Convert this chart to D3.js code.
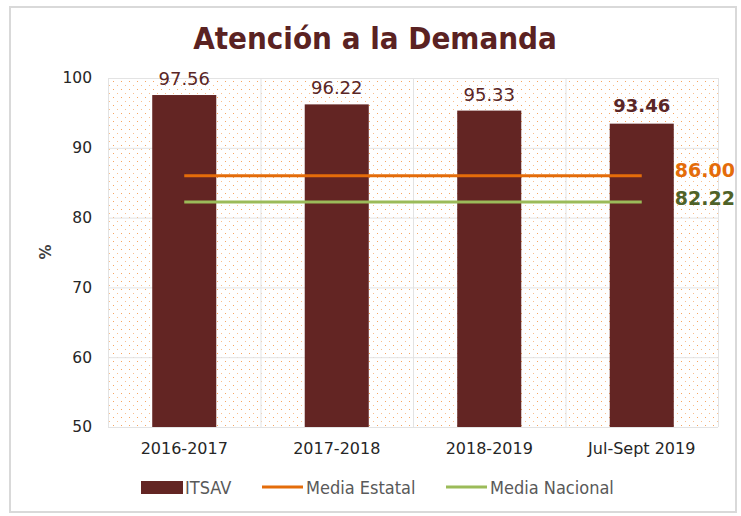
<!DOCTYPE html>
<html><head><meta charset="utf-8">
<script src="https://cdn.jsdelivr.net/npm/d3@7"></script>
<style>
body{margin:0;background:#fff;}
svg{display:block;}
</style></head>
<body>
<script>
const categories = ["2016-2017","2017-2018","2018-2019","Jul-Sept 2019"];
const itsav = [97.56, 96.22, 95.33, 93.46];
const mediaEstatal = [86.00, 86.00, 86.00, 86.00];
const mediaNacional = [82.22, 82.22, 82.22, 82.22];
const yTicks = [50, 60, 70, 80, 90, 100];
const legendLabels = ["ITSAV", "Media Estatal", "Media Nacional"];

const W = 741, H = 516;
const margin = {left:108, right:23, top:78, bottom:89};
const svg = d3.select("body").append("svg").attr("width", W).attr("height", H);

const maroon = "#632523", orange = "#E46C0A", green = "#9BBB59";

// outer border
svg.append("rect").attr("x",10).attr("y",7).attr("width",726).attr("height",505)
  .attr("fill","#fff").attr("stroke","#d9d9d9").attr("stroke-width",2);

// pattern
const defs = svg.append("defs");
const pat = defs.append("pattern").attr("id","dots").attr("patternUnits","userSpaceOnUse")
  .attr("width",8).attr("height",8);
pat.append("rect").attr("width",8).attr("height",8).attr("fill","#fff");
pat.append("rect").attr("x",1).attr("y",1).attr("width",1).attr("height",1).attr("fill","#f7a662");
pat.append("rect").attr("x",5).attr("y",5).attr("width",1).attr("height",1).attr("fill","#f9bf8f");

const x = d3.scaleBand().domain(categories).range([margin.left, W - margin.right]).paddingInner(0).paddingOuter(0);
const y = d3.scaleLinear().domain([50,100]).range([H - margin.bottom, margin.top]);

// plot background
svg.append("rect").attr("x", x.range()[0]).attr("y", y(100))
  .attr("width", x.range()[1]-x.range()[0]).attr("height", y(50)-y(100))
  .attr("fill","url(#dots)");

// gridlines
svg.append("g").selectAll("line").data(yTicks).join("line")
  .attr("x1", x.range()[0]).attr("x2", x.range()[1])
  .attr("y1", d=>y(d)+0.5).attr("y2", d=>y(d)+0.5)
  .attr("stroke","#e3e3e3").attr("stroke-width",1);
const bounds = categories.map(c=>x(c)).concat([x.range()[1]]);
svg.append("g").selectAll("line").data(bounds).join("line")
  .attr("x1", d=>d+0.5).attr("x2", d=>d+0.5)
  .attr("y1", y(100)).attr("y2", y(50))
  .attr("stroke","#e3e3e3").attr("stroke-width",1);

// bars
const bw = x.bandwidth()*0.42;
svg.append("g").selectAll("rect").data(itsav).join("rect")
  .attr("x",(d,i)=>x(categories[i]) + x.bandwidth()/2 - bw/2)
  .attr("y", d=>y(d)).attr("width", bw).attr("height", d=>y(50)-y(d))
  .attr("fill", maroon);

// bar labels
svg.append("g").selectAll("text").data(itsav).join("text")
  .attr("x",(d,i)=>x(categories[i]) + x.bandwidth()/2)
  .attr("y", (d,i)=>y(d)-(i===3?12:10))
  .attr("text-anchor","middle")
  .attr("font-family","DejaVu Sans, Verdana, sans-serif")
  .attr("font-size",18)
  .attr("font-weight",(d,i)=>i===3?"bold":"normal")
  .attr("fill","#5a2626")
  .text(d=>d.toFixed(2));

// lines
const line = d3.line().x((d,i)=>x(categories[i]) + x.bandwidth()/2).y(d=>y(d));
svg.append("path").datum(mediaEstatal).attr("d",line).attr("fill","none").attr("stroke",orange).attr("stroke-width",3);
svg.append("path").datum(mediaNacional).attr("d",line).attr("fill","none").attr("stroke",green).attr("stroke-width",3);

// line end labels
const lastX = x(categories[3]) + x.bandwidth()/2;
svg.append("text").attr("x", lastX+33).attr("y", y(mediaEstatal[3])+1)
  .attr("font-family","DejaVu Sans, Verdana, sans-serif").attr("font-size",19).attr("font-weight","bold")
  .attr("fill",orange).text(mediaEstatal[3].toFixed(2));
svg.append("text").attr("x", lastX+33).attr("y", y(mediaNacional[3])+3)
  .attr("font-family","DejaVu Sans, Verdana, sans-serif").attr("font-size",19).attr("font-weight","bold")
  .attr("fill","#4F6228").text(mediaNacional[3].toFixed(2));

// y axis
const yAxis = svg.append("g").attr("transform",`translate(${margin.left},0)`)
  .call(d3.axisLeft(y).tickValues(yTicks).tickSize(0).tickPadding(16));
yAxis.select(".domain").remove();
yAxis.selectAll("text").attr("font-family","DejaVu Sans, Verdana, sans-serif").attr("font-size",15.5).attr("fill","#262626");

// x axis
const xAxis = svg.append("g").attr("transform",`translate(0,${y(50)})`)
  .call(d3.axisBottom(x).tickSize(0).tickPadding(16));
xAxis.select(".domain").remove();
xAxis.selectAll("text").attr("font-family","DejaVu Sans, Verdana, sans-serif").attr("font-size",16).attr("fill","#262626");

// y title
svg.append("text").attr("transform","translate(51,252) rotate(-90)")
  .attr("text-anchor","middle").attr("font-family","DejaVu Sans, Verdana, sans-serif")
  .attr("font-size",15).attr("font-weight","bold").attr("fill","#404040").text("%");

// title
svg.append("text").attr("x",375).attr("y",49).attr("text-anchor","middle")
  .attr("font-family","DejaVu Sans Condensed, DejaVu Sans, sans-serif").attr("font-stretch","condensed")
  .attr("font-size",31).attr("font-weight","bold").attr("fill","#5a2222")
  .text("Atención a la Demanda");

// legend
const lg = svg.append("g").attr("font-family","DejaVu Sans Condensed, DejaVu Sans, sans-serif")
  .attr("font-size",18).attr("fill","#595959");
const lgItems = [
  {x:141, type:"rect", color:maroon},
  {x:262, type:"line", color:orange},
  {x:446, type:"line", color:green}
];
lgItems.forEach((it,i)=>{
  if(it.type==="rect"){
    lg.append("rect").attr("x",it.x).attr("y",481).attr("width",42).attr("height",13).attr("fill",it.color);
  } else {
    lg.append("line").attr("x1",it.x).attr("x2",it.x+41).attr("y1",487).attr("y2",487)
      .attr("stroke",it.color).attr("stroke-width",3);
  }
  lg.append("text").attr("x",it.x+44).attr("y",494).text(legendLabels[i]);
});
</script>
</body></html>
